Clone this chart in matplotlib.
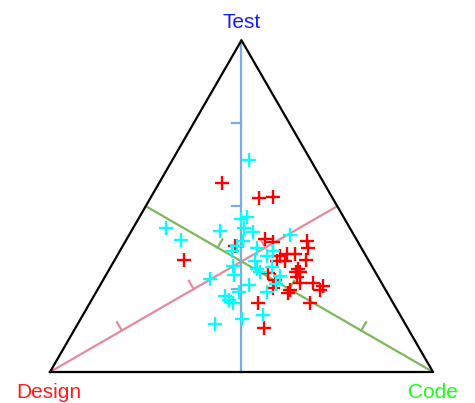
import numpy as np
import matplotlib
matplotlib.use('Agg')
from matplotlib import pyplot as plt

# ternary compositions (Design, Code, Test)
red_design = [0.265, 0.191, 0.153, 0.481, 0.131, 0.139, 0.238, 0.222, 0.327, 0.203,
              0.182, 0.239, 0.163, 0.218, 0.196, 0.197, 0.213, 0.283, 0.275, 0.214,
              0.180, 0.158, 0.172, 0.250, 0.261, 0.218, 0.354, 0.292, 0.375, 0.223,
              0.208]
red_code = [0.164, 0.283, 0.318, 0.180, 0.473, 0.486, 0.360, 0.385, 0.292, 0.440,
            0.461, 0.425, 0.498, 0.446, 0.492, 0.503, 0.502, 0.420, 0.449, 0.519,
            0.553, 0.584, 0.582, 0.504, 0.502, 0.575, 0.439, 0.456, 0.493, 0.426,
            0.492]
red_test = [0.571, 0.526, 0.529, 0.339, 0.396, 0.375, 0.402, 0.393, 0.381, 0.357,
            0.357, 0.336, 0.339, 0.336, 0.312, 0.300, 0.285, 0.297, 0.276, 0.267,
            0.267, 0.258, 0.246, 0.246, 0.237, 0.207, 0.207, 0.252, 0.132, 0.351,
            0.300]

cyan_design = [0.160, 0.270, 0.252, 0.480, 0.343, 0.459, 0.276, 0.259, 0.298, 0.322,
               0.342, 0.273, 0.166, 0.258, 0.235, 0.297, 0.362, 0.375, 0.304, 0.302,
               0.261, 0.443, 0.350, 0.255, 0.278, 0.387, 0.313, 0.429, 0.419, 0.425,
               0.420, 0.359, 0.497]
cyan_code = [0.200, 0.268, 0.280, 0.085, 0.231, 0.142, 0.289, 0.318, 0.306, 0.297,
             0.292, 0.352, 0.420, 0.391, 0.399, 0.367, 0.317, 0.334, 0.384, 0.398,
             0.421, 0.278, 0.389, 0.457, 0.458, 0.373, 0.447, 0.343, 0.374, 0.359,
             0.421, 0.470, 0.359]
cyan_test = [0.640, 0.462, 0.468, 0.435, 0.426, 0.399, 0.435, 0.423, 0.396, 0.381,
             0.366, 0.375, 0.414, 0.351, 0.366, 0.336, 0.321, 0.291, 0.312, 0.300,
             0.318, 0.279, 0.261, 0.288, 0.264, 0.240, 0.240, 0.228, 0.207, 0.216,
             0.159, 0.171, 0.144]

corner_labels = ['Design', 'Code', 'Test']
label_colors = ['#ff1a1a', '#1aff1a', '#1a1aff']
median_colors = ['#e58a9c', '#7db75f', '#7aaee0']
tick_fracs = [0.25, 0.5, 0.75]

h = np.sqrt(3) / 2
corners = np.array([[0.0, 0.0], [1.0, 0.0], [0.5, h]])


def to_xy(d, c, t):
    w = np.vstack([d, c, t])
    w = w / w.sum(axis=0)
    return corners[:, 0] @ w, corners[:, 1] @ w


fig = plt.figure(figsize=(4.75, 4.03), dpi=100)
ax = fig.add_axes([0, 0, 1, 1])
ax.set_xlim(-50 / 383, 425 / 383)
ax.set_ylim(-31 / 383, 372 / 383)
ax.axis('off')

# medians with ticks
tick_len = 0.025
tick_dirs = [(-0.5, h), (0.5, h), (-1.0, 0.0)]
for i in range(3):
    start = corners[i]
    end = corners[[j for j in range(3) if j != i]].mean(axis=0)
    ax.plot([start[0], end[0]], [start[1], end[1]], color=median_colors[i], lw=1.6, zorder=1)
    for f in tick_fracs:
        p = start + f * (end - start)
        ax.plot([p[0], p[0] + tick_len * tick_dirs[i][0]],
                [p[1], p[1] + tick_len * tick_dirs[i][1]],
                color=median_colors[i], lw=1.6, zorder=1)

tri = np.vstack([corners, corners[:1]])
ax.plot(tri[:, 0], tri[:, 1], color='black', lw=1.6, zorder=2)

rx, ry = to_xy(red_design, red_code, red_test)
cx, cy = to_xy(cyan_design, cyan_code, cyan_test)
ax.plot(rx, ry, '+', color='red', ms=10.5, mew=1.7, zorder=3)
ax.plot(cx, cy, '+', color='cyan', ms=10.5, mew=1.7, zorder=3)

label_pos = [(-1 / 383, -20 / 383), (1.0, -20 / 383), (0.5, h + 18 / 383)]
for (x, y), lab, col in zip(label_pos, corner_labels, label_colors):
    ax.text(x, y, lab, color=col, ha='center', va='center', fontsize=15, family='Liberation Sans')

fig.savefig('out.png', dpi=100)
